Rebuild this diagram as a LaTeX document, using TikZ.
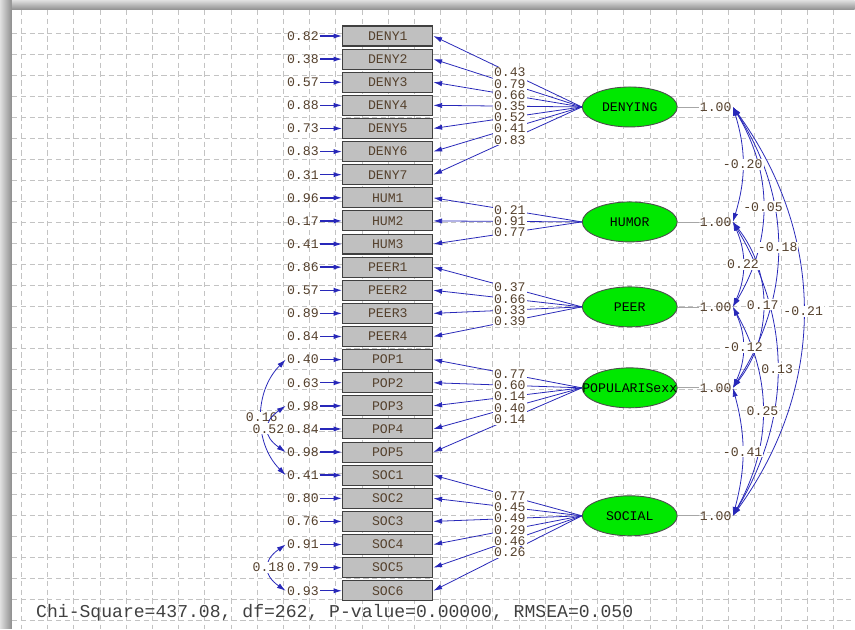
\documentclass[tikz,border=0pt]{standalone}
\usepackage{fontspec}
\usepackage{xcolor}
\usetikzlibrary{shapes.geometric,arrows.meta}

\newfontfamily\lismono{Liberation Mono}

\definecolor{lisblue}{RGB}{40,40,185}
\definecolor{boxgray}{RGB}{192,192,192}
\definecolor{latgreen}{RGB}{0,232,0}
\definecolor{numcol}{RGB}{85,65,45}
\definecolor{gridcol}{RGB}{195,195,195}

\pgfdeclarelayer{back}
\pgfdeclarelayer{lines}
\pgfsetlayers{back,lines,main}

\begin{document}
\begin{tikzpicture}[
    x=0.02cm, y=-0.02cm,
    font=\lismono\fontsize{7.5}{8}\selectfont,
    obs/.style={
      rectangle, draw=black!75, fill=boxgray, line width=0.6pt,
      minimum width=1.8cm, minimum height=0.4cm, inner sep=0pt, text=numcol
    },
    lat/.style={
      ellipse, draw=black!70, fill=latgreen, line width=0.5pt,
      minimum width=1.9cm, minimum height=0.8cm, inner sep=0pt
    },
    num/.style={text=numcol, inner sep=0.6pt},
    lbl/.style={num, fill=white},
    >={Latex[length=5pt,width=3pt]}, % arrowheads
    load/.style={->, draw=lisblue, line width=0.45pt},
    errarrow/.style={->, draw=lisblue, line width=0.8pt},
    cov/.style={<->, draw=lisblue, line width=0.45pt},
    varline/.style={draw=black!35, line width=0.4pt},
    gridline/.style={draw=gridcol, line width=0.4pt, dash pattern=on 3pt off 2pt},
  ]

  % Window frame and dashed grid
  \begin{pgfonlayer}{back}
    \fill[white] (0,0) rectangle (855,629);
    \shade[left color=black!12, right color=black!45] (0,0) rectangle (12,629);
    \shade[top color=black!12, bottom color=black!45] (12,0) rectangle (855,10);
    \foreach \gx in {0,...,31}
      \draw[gridline] ({21.4+26.2*\gx},10) -- ({21.4+26.2*\gx},629);
    \foreach \gy in {0,...,28}
      \draw[gridline] (12,{33+21*\gy}) -- (855,{33+21*\gy});
  \end{pgfonlayer}
  \useasboundingbox (0,0) rectangle (855,629);

  % Observed variables with their error variances
  \foreach \n/\t/\e [count=\i from 0] in {
      deny1/DENY1/0.82, deny2/DENY2/0.38, deny3/DENY3/0.57, deny4/DENY4/0.88,
      deny5/DENY5/0.73, deny6/DENY6/0.83, deny7/DENY7/0.31,
      hum1/HUM1/0.96, hum2/HUM2/0.17, hum3/HUM3/0.41,
      peer1/PEER1/0.86, peer2/PEER2/0.57, peer3/PEER3/0.89, peer4/PEER4/0.84,
      pop1/POP1/0.40, pop2/POP2/0.63, pop3/POP3/0.98, pop4/POP4/0.84, pop5/POP5/0.98,
      soc1/SOC1/0.41, soc2/SOC2/0.80, soc3/SOC3/0.76, soc4/SOC4/0.91,
      soc5/SOC5/0.79, soc6/SOC6/0.93} {
    \node[obs] (\n) at (388,{36+23.125*\i}) {\t};
    \node[num] (e\n) at (303,{36+23.125*\i}) {\e};
    \draw[errarrow] (e\n.east) -- (\n.west);
  }

  % Latent variables
  \node[lat] (denying) at (630,107) {DENYING};
  \node[lat] (humor)   at (630,222) {HUMOR};
  \node[lat] (peer)    at (630,307) {PEER};
  \node[lat] (popular) at (630,388) {\makebox[0pt]{POPULARISexx}};
  \node[lat] (social)  at (630,516) {SOCIAL};

  % Loadings (lines kept under the value labels)
  \foreach \l/\b/\v in {
      denying/deny1/0.43, denying/deny2/0.79, denying/deny3/0.66, denying/deny4/0.35,
      denying/deny5/0.52, denying/deny6/0.41, denying/deny7/0.83,
      humor/hum1/0.21, humor/hum2/0.91, humor/hum3/0.77,
      peer/peer1/0.37, peer/peer2/0.66, peer/peer3/0.33, peer/peer4/0.39,
      popular/pop1/0.77, popular/pop2/0.60, popular/pop3/0.14,
      popular/pop4/0.40, popular/pop5/0.14,
      social/soc1/0.77, social/soc2/0.45, social/soc3/0.49,
      social/soc4/0.29, social/soc5/0.46, social/soc6/0.26} {
    \begin{pgfonlayer}{lines}
      \draw[load] (\l.west) -- (\b.east);
    \end{pgfonlayer}
    \path (\l.west) -- (\b.east) node[lbl, pos=0.485] {\v};
  }

  % Latent variances
  \node[num] (vdenying) at (716,107) {1.00};
  \node[num] (vhumor)   at (716,222) {1.00};
  \node[num] (vpeer)    at (716,307) {1.00};
  \node[num] (vpopular) at (716,388) {1.00};
  \node[num] (vsocial)  at (716,516) {1.00};
  \foreach \l in {denying,humor,peer,popular,social}
    \draw[varline] (\l.east) -- (v\l.west);

  % Covariances among the factors
  \begin{pgfonlayer}{lines}
    \draw[cov] (vdenying.east) to[bend left=17] coordinate[midway] (c1) (vhumor.east);
    \draw[cov] (vdenying.east) to[bend left=31] coordinate[midway] (c2) (vpeer.east);
    \draw[cov] (vdenying.east) to[bend left=33] coordinate[midway] (c3) (vpopular.east);
    \draw[cov] (vdenying.east) to[bend left=36] coordinate[midway] (c4) (vsocial.east);
    \draw[cov] (vhumor.east) to[bend left=24] coordinate[midway] (c5) (vpeer.east);
    \draw[cov] (vhumor.east) to[bend left=38] coordinate[midway] (c6) (vpopular.east);
    \draw[cov] (vhumor.east) to[bend left=31] coordinate[midway] (c7) (vsocial.east);
    \draw[cov] (vpeer.east) to[bend left=25] coordinate[midway] (c8) (vpopular.east);
    \draw[cov] (vpeer.east) to[bend left=29] coordinate[midway] (c9) (vsocial.east);
    \draw[cov] (vpopular.east) to[bend left=15] coordinate[midway] (c10) (vsocial.east);
  \end{pgfonlayer}
  \foreach \c/\v in {c1/-0.20, c2/-0.05, c3/-0.18, c4/-0.21, c5/0.22,
                     c6/0.17, c7/0.13, c8/-0.12, c9/0.25, c10/-0.41}
    \node[lbl] at (\c) {\v};

  % Correlated errors
  \draw[cov] (epop1.west) to[bend right=45] node[lbl, midway] {0.16} (esoc1.west);
  \draw[cov] (epop3.west) to[out=215, in=145, looseness=1.55]
    node[lbl, midway] {0.52} (epop5.west);
  \draw[cov] (esoc4.west) to[out=215, in=145, looseness=1.55]
    node[lbl, midway] {0.18} (esoc6.west);

  % Fit statistics
  \node[anchor=west, text=black!75, font=\lismono\fontsize{10.3}{12}\selectfont]
    (fitstats) at (30,613) {Chi-Square=437.08, df=262, P-value=0.00000, RMSEA=0.050};

\end{tikzpicture}
\end{document}
